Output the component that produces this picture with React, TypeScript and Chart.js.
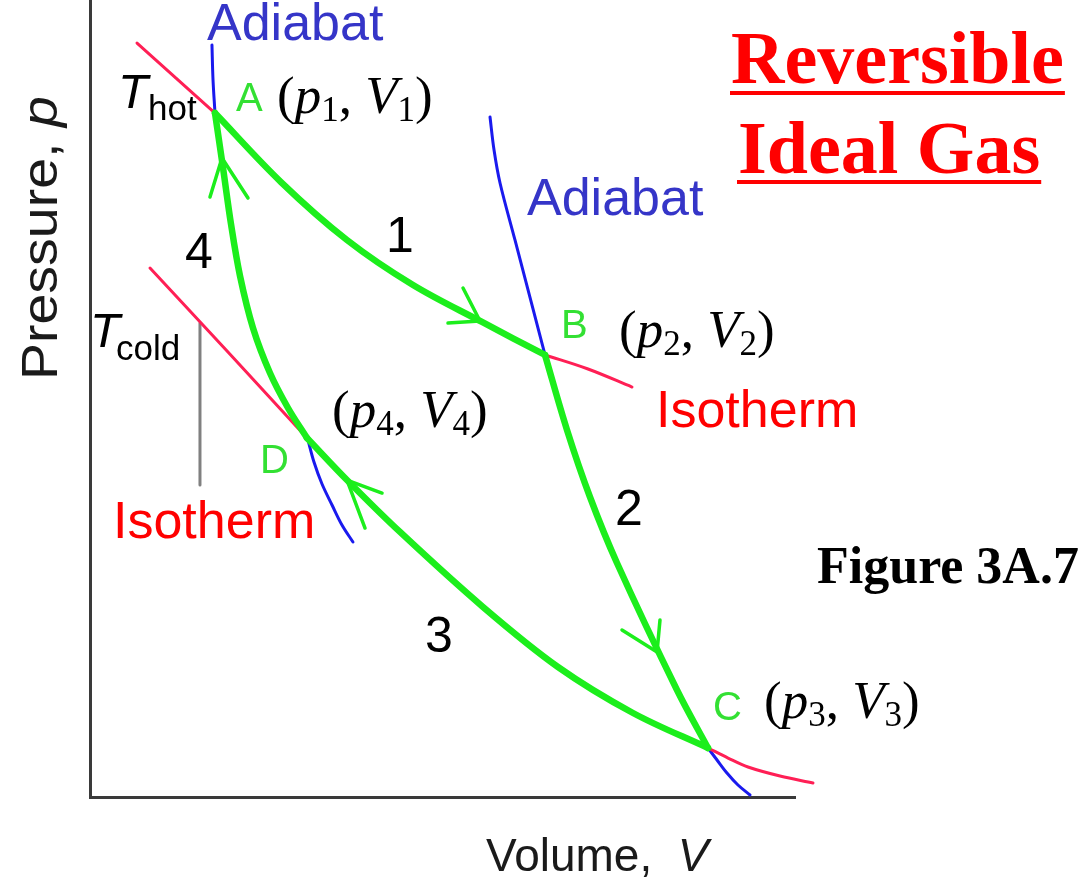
import React, { useEffect, useRef } from "react";
import { Chart, registerables } from "chart.js";

Chart.register(...registerables);

// ---- Data (Volume V, Pressure p in arbitrary units; axes run 0..10) ----
// Step 1: isothermal expansion A -> B (T hot)
const stage1V = [1.773, 2.709, 3.645, 4.582, 5.56, 6.454];
const stage1P = [8.582, 7.716, 6.989, 6.424, 5.96, 5.546];
// Step 2: adiabatic expansion B -> C
const stage2V = [6.454, 6.766, 7.092, 7.475, 8.326, 8.766];
const stage2P = [5.546, 4.605, 3.764, 2.936, 1.343, 0.615];
// Step 3: isothermal compression C -> D (T cold)
const stage3V = [8.766, 7.702, 6.638, 5.574, 4.397, 3.645, 3.078];
const stage3P = [0.615, 1.054, 1.631, 2.384, 3.325, 3.977, 4.504];
// Step 4: adiabatic compression D -> A
const stage4V = [3.078, 2.809, 2.553, 2.312, 2.128, 2.0, 1.887, 1.773];
const stage4P = [4.504, 4.881, 5.32, 5.885, 6.537, 7.189, 7.892, 8.582];

// Isotherm extensions (red)
const hotIsoLeftV = [0.667, 1.22, 1.773];
const hotIsoLeftP = [9.46, 9.021, 8.582];
const hotIsoRightV = [6.454, 7.064, 7.688];
const hotIsoRightP = [5.546, 5.37, 5.144];
const coldIsoLeftV = [0.851, 1.957, 3.078];
const coldIsoLeftP = [6.637, 5.583, 4.504];
const coldIsoRightV = [8.766, 9.05, 9.333, 9.787, 10.255];
const coldIsoRightP = [0.615, 0.489, 0.376, 0.263, 0.176];

// Adiabat extensions (blue)
const adiabatATopV = [1.73, 1.745, 1.773];
const adiabatATopP = [9.435, 8.996, 8.582];
const adiabatDLowV = [3.092, 3.177, 3.291, 3.433, 3.574, 3.73];
const adiabatDLowP = [4.479, 4.203, 3.927, 3.664, 3.413, 3.199];
const adiabatBTopV = [5.674, 5.731, 5.816, 6.028, 6.454];
const adiabatBTopP = [8.532, 8.118, 7.704, 6.989, 5.546];
const adiabatCLowV = [8.766, 8.894, 9.035, 9.191, 9.362];
const adiabatCLowP = [0.615, 0.464, 0.301, 0.151, 0.025];

// T cold marker
const coldMarkV = [1.56, 1.56];
const coldMarkP = [5.947, 3.915];

// Direction arrowheads (wing, tip, wing)
const arrow1V = [5.291, 5.532, 5.078];
const arrow1P = [6.386, 5.972, 5.947];
const arrow2V = [7.546, 8.043, 8.085];
const arrow2P = [2.095, 1.819, 2.221];
const arrow3V = [4.142, 3.645, 3.901];
const arrow3P = [3.814, 3.977, 3.375];
const arrow4V = [1.702, 1.872, 2.241];
const arrow4P = [7.528, 8.018, 7.516];

const V_MIN = 0;
const V_MAX = 10;
const P_MIN = 0;
const P_MAX = 10;

const GREEN = "#1cee1c";
const LABEL_GREEN = "#33e033";
const RED_LINE = "#ff1f55";
const BLUE_LINE = "#1a1aee";
const BLUE_TEXT = "#3535c8";
const RED_TEXT = "#ff0000";

const SANS = '"Liberation Sans", Arial, sans-serif';
const SERIF = '"Liberation Serif", "Times New Roman", serif';

const pts = (v: number[], p: number[]) => v.map((x, i) => ({ x, y: p[i] }));

type Part = { t: string; font: string; dy?: number };

function drawRich(ctx: CanvasRenderingContext2D, parts: Part[], x: number, y: number, color: string) {
  let cx = x;
  ctx.fillStyle = color;
  for (const part of parts) {
    ctx.font = part.font;
    ctx.fillText(part.t, cx, y + (part.dy || 0));
    cx += ctx.measureText(part.t).width;
  }
}

function pvLabel(idx: string): Part[] {
  const big = `53px ${SERIF}`;
  const it = `italic 53px ${SERIF}`;
  const sub = `35px ${SERIF}`;
  return [
    { t: "(", font: big },
    { t: "p", font: it },
    { t: idx, font: sub, dy: 8 },
    { t: ", ", font: big },
    { t: "V", font: it },
    { t: idx, font: sub, dy: 8 },
    { t: ")", font: big },
  ];
}

const textPlugin = {
  id: "diagramText",
  afterDraw(chart: any) {
    const ctx: CanvasRenderingContext2D = chart.ctx;
    ctx.save();
    ctx.textBaseline = "alphabetic";
    ctx.textAlign = "left";

    // Adiabat labels
    ctx.fillStyle = BLUE_TEXT;
    ctx.font = `52px ${SANS}`;
    ctx.fillText("Adiabat", 207, 40);
    ctx.fillText("Adiabat", 527, 215);

    // Isotherm labels
    ctx.fillStyle = RED_TEXT;
    ctx.fillText("Isotherm", 656, 427);
    ctx.fillText("Isotherm", 113, 538);

    // Step numbers
    ctx.fillStyle = "#000";
    ctx.font = `50px ${SANS}`;
    ctx.fillText("1", 386, 252);
    ctx.fillText("4", 185, 268);
    ctx.fillText("2", 615, 525);
    ctx.fillText("3", 425, 652);

    // State letters
    ctx.fillStyle = LABEL_GREEN;
    ctx.font = `40px ${SANS}`;
    ctx.fillText("A", 236, 111);
    ctx.fillText("B", 561, 338);
    ctx.fillText("D", 260, 473);
    ctx.fillText("C", 713, 720);

    // (p, V) labels
    drawRich(ctx, pvLabel("1"), 277, 113, "#000");
    drawRich(ctx, pvLabel("2"), 619, 347, "#000");
    drawRich(ctx, pvLabel("4"), 332, 427, "#000");
    drawRich(ctx, pvLabel("3"), 764, 718, "#000");

    // T hot / T cold
    drawRich(ctx, [{ t: "T", font: `italic 49px ${SANS}` }], 118, 108, "#000");
    ctx.font = `35px ${SANS}`;
    ctx.fillText("hot", 148, 120);
    drawRich(ctx, [{ t: "T", font: `italic 49px ${SANS}` }], 90, 347, "#000");
    ctx.font = `35px ${SANS}`;
    ctx.fillText("cold", 116, 360);

    // Title
    ctx.fillStyle = RED_TEXT;
    ctx.font = `bold 74px ${SERIF}`;
    const w1 = ctx.measureText("Reversible").width;
    ctx.fillText("Reversible", 731, 83);
    ctx.fillRect(730, 91, w1 + 2, 4);
    const w2 = ctx.measureText("Ideal Gas").width;
    ctx.fillText("Ideal Gas", 738, 173);
    ctx.fillRect(737, 180, w2 + 2, 4);

    // Figure caption
    ctx.fillStyle = "#000";
    ctx.font = `bold 52px ${SERIF}`;
    ctx.fillText("Figure 3A.7", 817, 583);

    // Axis titles
    drawRich(
      ctx,
      [
        { t: "Volume,  ", font: `46px ${SANS}` },
        { t: "V", font: `italic 46px ${SANS}` },
      ],
      486,
      871,
      "#1a1a1a"
    );
    ctx.save();
    ctx.translate(57, 380);
    ctx.rotate(-Math.PI / 2);
    ctx.scale(1.11, 1);
    drawRich(
      ctx,
      [
        { t: "Pressure, ", font: `50px ${SANS}` },
        { t: "p", font: `italic 50px ${SANS}` },
      ],
      0,
      0,
      "#1a1a1a"
    );
    ctx.restore();

    ctx.restore();
  },
};

export default function App() {
  const ref = useRef<HTMLCanvasElement>(null);

  useEffect(() => {
    if (!ref.current) return;
    const line = (v: number[], p: number[], color: string, width: number, order: number, tension = 0.35) => ({
      data: pts(v, p),
      showLine: true,
      borderColor: color,
      backgroundColor: color,
      borderWidth: width,
      pointRadius: 0,
      pointHoverRadius: 0,
      tension,
      fill: false,
      clip: false as any,
      order,
      borderCapStyle: "round" as const,
      borderJoinStyle: "round" as const,
    });

    const chart = new Chart(ref.current, {
      type: "scatter",
      data: {
        datasets: [
          line(stage1V, stage1P, GREEN, 6.5, 0),
          line(stage2V, stage2P, GREEN, 6.5, 0),
          line(stage3V, stage3P, GREEN, 6.5, 0),
          line(stage4V, stage4P, GREEN, 6.5, 0),
          line(arrow1V, arrow1P, GREEN, 3.5, 0, 0),
          line(arrow2V, arrow2P, GREEN, 3.5, 0, 0),
          line(arrow3V, arrow3P, GREEN, 3.5, 0, 0),
          line(arrow4V, arrow4P, GREEN, 3.5, 0, 0),
          line(hotIsoLeftV, hotIsoLeftP, RED_LINE, 3, 1),
          line(hotIsoRightV, hotIsoRightP, RED_LINE, 3, 1),
          line(coldIsoLeftV, coldIsoLeftP, RED_LINE, 3, 1),
          line(coldIsoRightV, coldIsoRightP, RED_LINE, 3, 1),
          line(adiabatATopV, adiabatATopP, BLUE_LINE, 3, 1),
          line(adiabatDLowV, adiabatDLowP, BLUE_LINE, 3, 1),
          line(adiabatBTopV, adiabatBTopP, BLUE_LINE, 3, 1),
          line(adiabatCLowV, adiabatCLowP, BLUE_LINE, 3, 1),
          line(coldMarkV, coldMarkP, "#808080", 3, 2, 0),
        ],
      },
      options: {
        responsive: false,
        maintainAspectRatio: false,
        animation: false,
        events: [],
        layout: { padding: { left: 90, right: 286, top: 0, bottom: 83 } },
        plugins: {
          legend: { display: false },
          tooltip: { enabled: false },
          title: { display: false },
        },
        scales: {
          x: {
            type: "linear",
            min: V_MIN,
            max: V_MAX,
            ticks: { display: false },
            grid: { display: false, drawTicks: false },
            border: { display: true, color: "#3a3a3a", width: 3 },
          },
          y: {
            type: "linear",
            min: P_MIN,
            max: P_MAX,
            ticks: { display: false },
            grid: { display: false, drawTicks: false },
            border: { display: true, color: "#3a3a3a", width: 3 },
          },
        },
      },
      plugins: [textPlugin],
    });
    return () => chart.destroy();
  }, []);

  return (
    <div style={{ position: "absolute", left: 0, top: 0, width: 1081, height: 880, background: "#fff" }}>
      <canvas ref={ref} width={1081} height={880} style={{ display: "block" }} />
    </div>
  );
}
